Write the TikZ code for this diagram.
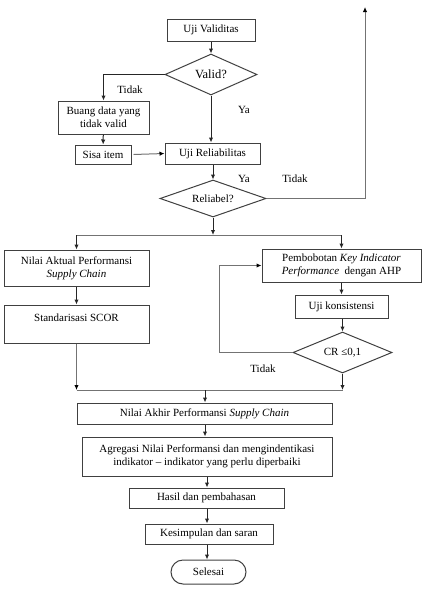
\documentclass[tikz,border=0pt]{standalone}
\usepackage{fontspec}
\setmainfont{Liberation Serif}
\usetikzlibrary{shapes.geometric,arrows.meta,positioning}

\begin{document}
\begin{tikzpicture}[x=1pt,y=-1pt,font=\fontsize{11}{13}\selectfont,
	kotak/.style={draw=black!75, line width=1pt, inner sep=1pt, align=center},
	belah/.style={diamond, draw=black!75, line width=1pt, inner sep=0pt, aspect=2.2},
	panah/.style={-{Latex[length=5pt,width=4.5pt]}, line width=1pt, black!85},
	garis/.style={line width=1pt, black!55},
	ujung/.style={-{Latex[length=5pt,width=4.5pt,color=black]}},
	ket/.style={inner sep=0pt}]
	\useasboundingbox (0,0) rectangle (426,600);
	% bagian validitas dan reliabilitas
	\node[kotak, minimum width=88, minimum height=22] (uji) at (211,30) {Uji Validitas};
	\node[belah, minimum width=92, minimum height=41, font=\fontsize{12.5}{14}\selectfont] (valid) at (211,74.5) {Valid?};
	\node[kotak, minimum width=91, minimum height=33] (buang) at (103.5,117.5) {Buang data yang\\tidak valid};
	\node[kotak, minimum width=56, minimum height=19] (sisa) at (103,154.5) {Sisa item};
	\node[kotak, minimum width=95, minimum height=21] (reli) at (212.5,153.5) {Uji Reliabilitas};
	\node[belah, minimum width=106, minimum height=37] (reliabel) at (213,198.5) {Reliabel?};
	\coordinate (puncak) at (365,7);
	\coordinate (cabang) at (213,235);
	\node[ket] (tidak1) at (130,90) {Tidak};
	\node[ket] (ya1) at (244,110) {Ya};
	\node[ket] (ya2) at (244,179) {Ya};
	\node[ket] (tidak2) at (295,179) {Tidak};
	% dua jalur
	\node[kotak, minimum width=145, minimum height=36] (aktual) at (76.5,268) {Nilai Aktual Performansi\\\textit{Supply Chain}};
	\node[kotak, minimum width=145, minimum height=38] (scor) at (76.5,324) {Standarisasi SCOR\\\mbox{}};
	\node[kotak, minimum width=159, minimum height=33] (bobot) at (341.5,265.5) {Pembobotan \textit{Key Indicator}\\\textit{Performance}\ \ dengan AHP};
	\node[kotak, minimum width=93, minimum height=23] (konsis) at (341.5,306.5) {Uji konsistensi};
	\node[belah, minimum width=99, minimum height=41] (cr) at (342.5,352.5) {CR ≤0,1};
	\coordinate (balik) at (219,352.5);
	\node[ket] (tidak3) at (263,369) {Tidak};
	\coordinate (gabung) at (205,390);
	% bagian akhir
	\node[kotak, minimum width=255, minimum height=21] (akhir) at (204.5,413.5) {Nilai Akhir Performansi \textit{Supply Chain}};
	\node[kotak, minimum width=250, minimum height=39] (agregasi) at (207,456.5) {Agregasi Nilai Performansi dan mengindentikasi\\indikator -- indikator yang perlu diperbaiki};
	\node[kotak, minimum width=155, minimum height=20] (hasil) at (206.5,498) {Hasil dan pembahasan};
	\node[kotak, minimum width=128, minimum height=20] (simpul) at (209,534) {Kesimpulan dan saran};
	\node[kotak, rounded corners=12pt, minimum width=75, minimum height=24] (selesai) at (208.5,572) {Selesai};

	\draw[panah] (uji) -- (valid);
	\draw[panah] (valid.west) -| (buang.north);
	\draw[panah] (buang) -- (sisa);
	\draw[garis, ujung] (sisa.east) ++(2,0) -- (reli.west);
	\draw[panah] (valid.south) -- (valid.south |- reli.north);
	\draw[panah] (reli.south -| reliabel) -- (reliabel.north);
	\draw[garis, ujung] (reliabel.east) -| (puncak);
	\draw[panah] (reliabel.south) -- (cabang);
	\draw[garis] (aktual.north |- cabang) -- (bobot.north |- cabang);
	\draw[panah] (aktual.north |- cabang) -- (aktual.north);
	\draw[panah] (bobot.north |- cabang) -- (bobot.north);
	\draw[panah] (aktual) -- (scor);
	\draw[panah] (bobot) -- (konsis);
	\draw[panah] (konsis.south -| cr) -- (cr.north);
	\draw[garis, ujung] (cr.west) -- (balik) |- (bobot.west);
	\draw[garis, ujung] (scor.south) -- (scor.south |- gabung);
	\draw[panah] (cr.south) -- (cr.south |- gabung);
	\draw[garis] (scor.south |- gabung) -- (cr.south |- gabung);
	\draw[panah] (gabung) -- (gabung |- akhir.north);
	\draw[panah] (akhir.south -| gabung) -- (gabung |- agregasi.north);
	\draw[panah] (agregasi) -- (agregasi |- hasil.north);
	\draw[panah] (hasil.south -| agregasi) -- (agregasi |- simpul.north);
	\draw[panah] (simpul.south -| agregasi) -- (agregasi |- selesai.north);
\end{tikzpicture}
\end{document}
